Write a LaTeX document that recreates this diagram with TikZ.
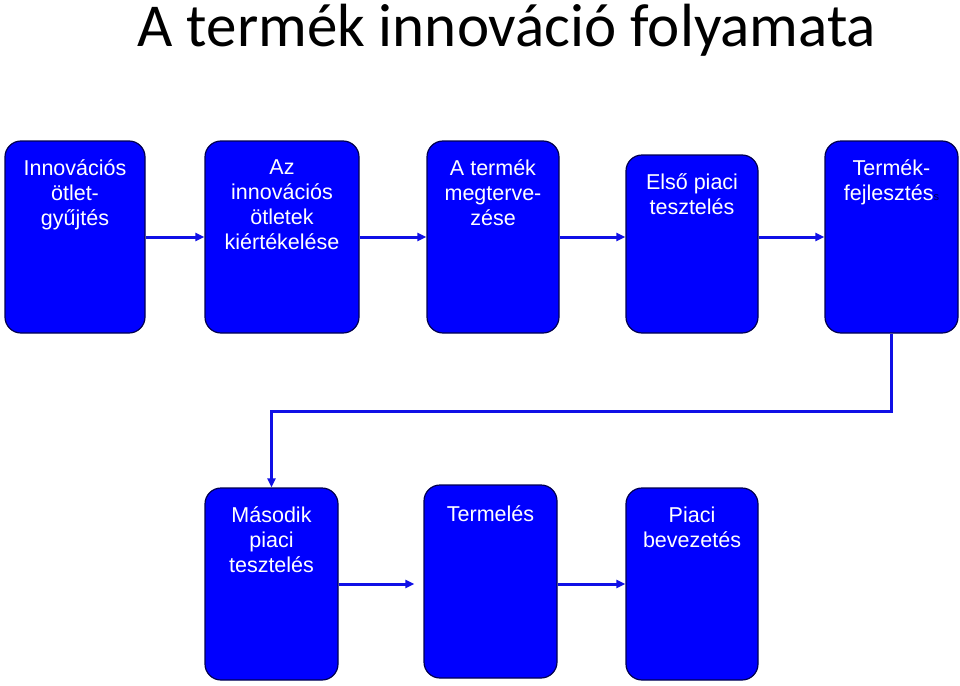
\documentclass[tikz,border=0pt]{standalone}
\usepackage{fontspec}
\setmainfont{Liberation Sans}
\newfontfamily\titlefont{Carlito}
\usetikzlibrary{arrows.meta, positioning, calc}
\definecolor{cblue}{HTML}{0000FF}
\definecolor{cnavy}{HTML}{000050}
\definecolor{carrow}{HTML}{1010E6}
\tikzset{
  every picture/.style={x=1pt, y=-1pt},
  box/.style={draw=cnavy, fill=cblue, rounded corners=16pt, line width=1.2pt, minimum width=#1, minimum height=192pt, inner sep=0pt},
  box/.default=133pt,
  boxtext/.style={text=white, align=center, anchor=north, inner sep=0pt, font=\fontsize{21.5}{25}\selectfont, execute at begin node=\strut, yshift=-19.5pt},
  arrow/.style={-{Triangle[length=9pt, width=8pt]}, draw=carrow, line width=3pt},
  title/.style={font=\titlefont\fontsize{61}{66}\selectfont},
}

\begin{document}
\begin{tikzpicture}
  \useasboundingbox (0,0) rectangle (960,685);
  \node[title, anchor=base] (title) at (507,47) {A termék innováció folyamata};
  % upper row
  \node[box=140pt] (b1) at (75,237) {};
  \node[box=154pt] (b2) at (282,237) {};
  \node[box=132pt] (b3) at (493,237) {};
  \node[box=132pt, minimum height=178pt] (b4) at (692,244) {};
  \node[box] (b5) at (891.5,237) {};
  % lower row
  \node[box] (b6) at (271.5,584) {};
  \node[box, minimum height=193pt] (b7) at (490.5,581.5) {};
  \node[box=132pt] (b8) at (692,584) {};
  % texts
  \node[boxtext] (t1) at (b1.north) {Innovációs\\ötlet-\\gyűjtés};
  \node[boxtext] (t2) at (b2.north) {Az\\innovációs\\ötletek\\kiértékelése};
  \node[boxtext] (t3) at (b3.north) {A termék\\megterve-\\zése};
  \node[boxtext] (t4) at (b4.north) {Első piaci\\tesztelés};
  \node[boxtext] (t5) at (b5.north) {Termék-\\fejlesztés{\color{cnavy}\fontsize{11}{11}\selectfont s}};
  \node[boxtext] (t6) at (b6.north) {Második\\piaci\\tesztelés};
  \node[boxtext] (t7) at (b7.north) {Termelés};
  \node[boxtext] (t8) at (b8.north) {Piaci\\bevezetés};
  % arrows
  \draw[arrow] (b1.east) -- (b2.west);
  \draw[arrow] (b2.east) -- (b3.west);
  \draw[arrow] (b3.east) -- (b3.east -| b4.west);
  \draw[arrow] (b4.east |- b5.west) -- (b5.west);
  \draw[arrow] (b5.south) -- ++(0,78) -| (b6.north);
  \draw[arrow, shorten >=9pt] (b6.east) -- (b6.east -| b7.west);
  \draw[arrow] (b6.east -| b7.east) -- (b6.east -| b8.west);
\end{tikzpicture}
\end{document}
